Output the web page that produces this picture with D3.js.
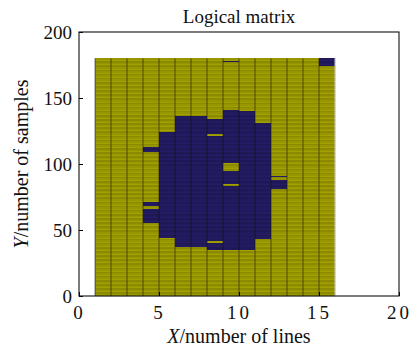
<!DOCTYPE html>
<html>
<head>
<meta charset="utf-8">
<script src="https://cdn.jsdelivr.net/npm/d3@7"></script>
<style>
  body { margin: 0; background: #fff; }
  text { font-family: "Liberation Serif", "Times New Roman", serif; fill: #111; }
</style>
</head>
<body>
<figure id="matrix" style="margin:0"></figure>
<script>
// grid size: 15 lines (x = 1..16), 180 samples (y = 0..180)
const nLines = 15;
const nSamples = 180;
const xTicks = [0, 5, 10, 15, 20];
const yTicks = [0, 50, 100, 150, 200];

// blue (value 1) runs per column: [column, yFrom, yTo]
const blueRuns = [
  [4, 109, 113], [4, 68, 71], [4, 55, 66],
  [5, 44, 124],
  [6, 37, 136],
  [7, 37, 136],
  [8, 35, 40], [8, 42, 121], [8, 123, 134],
  [9, 35, 83], [9, 85, 95], [9, 101, 141], [9, 177, 178],
  [10, 35, 140],
  [11, 43, 131],
  [12, 81, 88], [12, 90, 91],
  [15, 174, 180]
];

const width = 413, height = 350;
const margin = { left: 79, right: 14, top: 32, bottom: 54 };
const w = width - margin.left - margin.right;
const h = height - margin.top - margin.bottom;

// build the logical matrix cells
const cells = [];
for (let c = 1; c <= nLines; c++) {
  for (let r = 0; r < nSamples; r++) {
    const on = blueRuns.some(b => b[0] === c && r >= b[1] && r + 1 <= b[2]);
    cells.push({ col: c, row: r, v: on ? 1 : 0 });
  }
}

const svg = d3.select("figure#matrix")
  .append("svg")
  .attr("width", width)
  .attr("height", height)
  .append("g")
  .attr("transform", "translate(" + margin.left + "," + margin.top + ")");

const x = d3.scaleLinear().domain([0, 20]).range([0, w]);
const y = d3.scaleLinear().domain([0, 200]).range([h, 0]);
const color = d3.scaleOrdinal().domain([0, 1]).range(["#a3a100", "#241d66"]);

// cells
svg.append("g")
  .selectAll("rect")
  .data(cells)
  .enter()
  .append("rect")
  .attr("x", d => x(d.col))
  .attr("y", d => y(d.row + 1))
  .attr("width", x(1) - x(0))
  .attr("height", y(0) - y(1))
  .attr("fill", d => color(d.v))
  .attr("stroke", "rgba(0,0,0,0.2)")
  .attr("stroke-width", 0.35)
  .attr("shape-rendering", "crispEdges");

// column separators
svg.append("g")
  .selectAll("line")
  .data(d3.range(1, nLines + 2))
  .enter()
  .append("line")
  .attr("x1", d => x(d)).attr("x2", d => x(d))
  .attr("y1", y(nSamples)).attr("y2", y(0))
  .attr("stroke", d => d === nLines + 1 ? "#c8c8c8" : "rgba(20,20,0,0.55)")
  .attr("stroke-width", 1);

// axes with inward ticks
svg.append("g")
  .attr("transform", "translate(0," + h + ")")
  .call(d3.axisBottom(x).tickValues(xTicks).tickSizeInner(-4).tickSizeOuter(0).tickPadding(10))
  .call(g => g.select(".domain").remove())
  .call(g => g.selectAll("text").attr("font-size", 19).attr("letter-spacing", 3).attr("dy", "0.71em"));

svg.append("g")
  .call(d3.axisLeft(y).tickValues(yTicks).tickSizeInner(-4).tickSizeOuter(0).tickPadding(7))
  .call(g => g.select(".domain").remove())
  .call(g => g.selectAll("text").attr("font-size", 19));

// frame
svg.append("rect")
  .attr("width", w).attr("height", h)
  .attr("fill", "none")
  .attr("stroke", "#111")
  .attr("stroke-width", 1.1);

svg.append("text")
  .attr("text-anchor", "middle")
  .attr("x", w / 2)
  .attr("y", -9)
  .attr("font-size", 19)
  .text("Logical matrix");

const xl = svg.append("text")
  .attr("text-anchor", "middle")
  .attr("x", w / 2)
  .attr("y", h + 47)
  .attr("font-size", 20);
xl.append("tspan").attr("font-style", "italic").text("X");
xl.append("tspan").text("/number of lines");

const yl = svg.append("text")
  .attr("text-anchor", "middle")
  .attr("transform", "translate(-51," + (h / 2) + ") rotate(-90)")
  .attr("font-size", 20);
yl.append("tspan").attr("font-style", "italic").text("Y");
yl.append("tspan").text("/number of samples");
</script>
</body>
</html>
